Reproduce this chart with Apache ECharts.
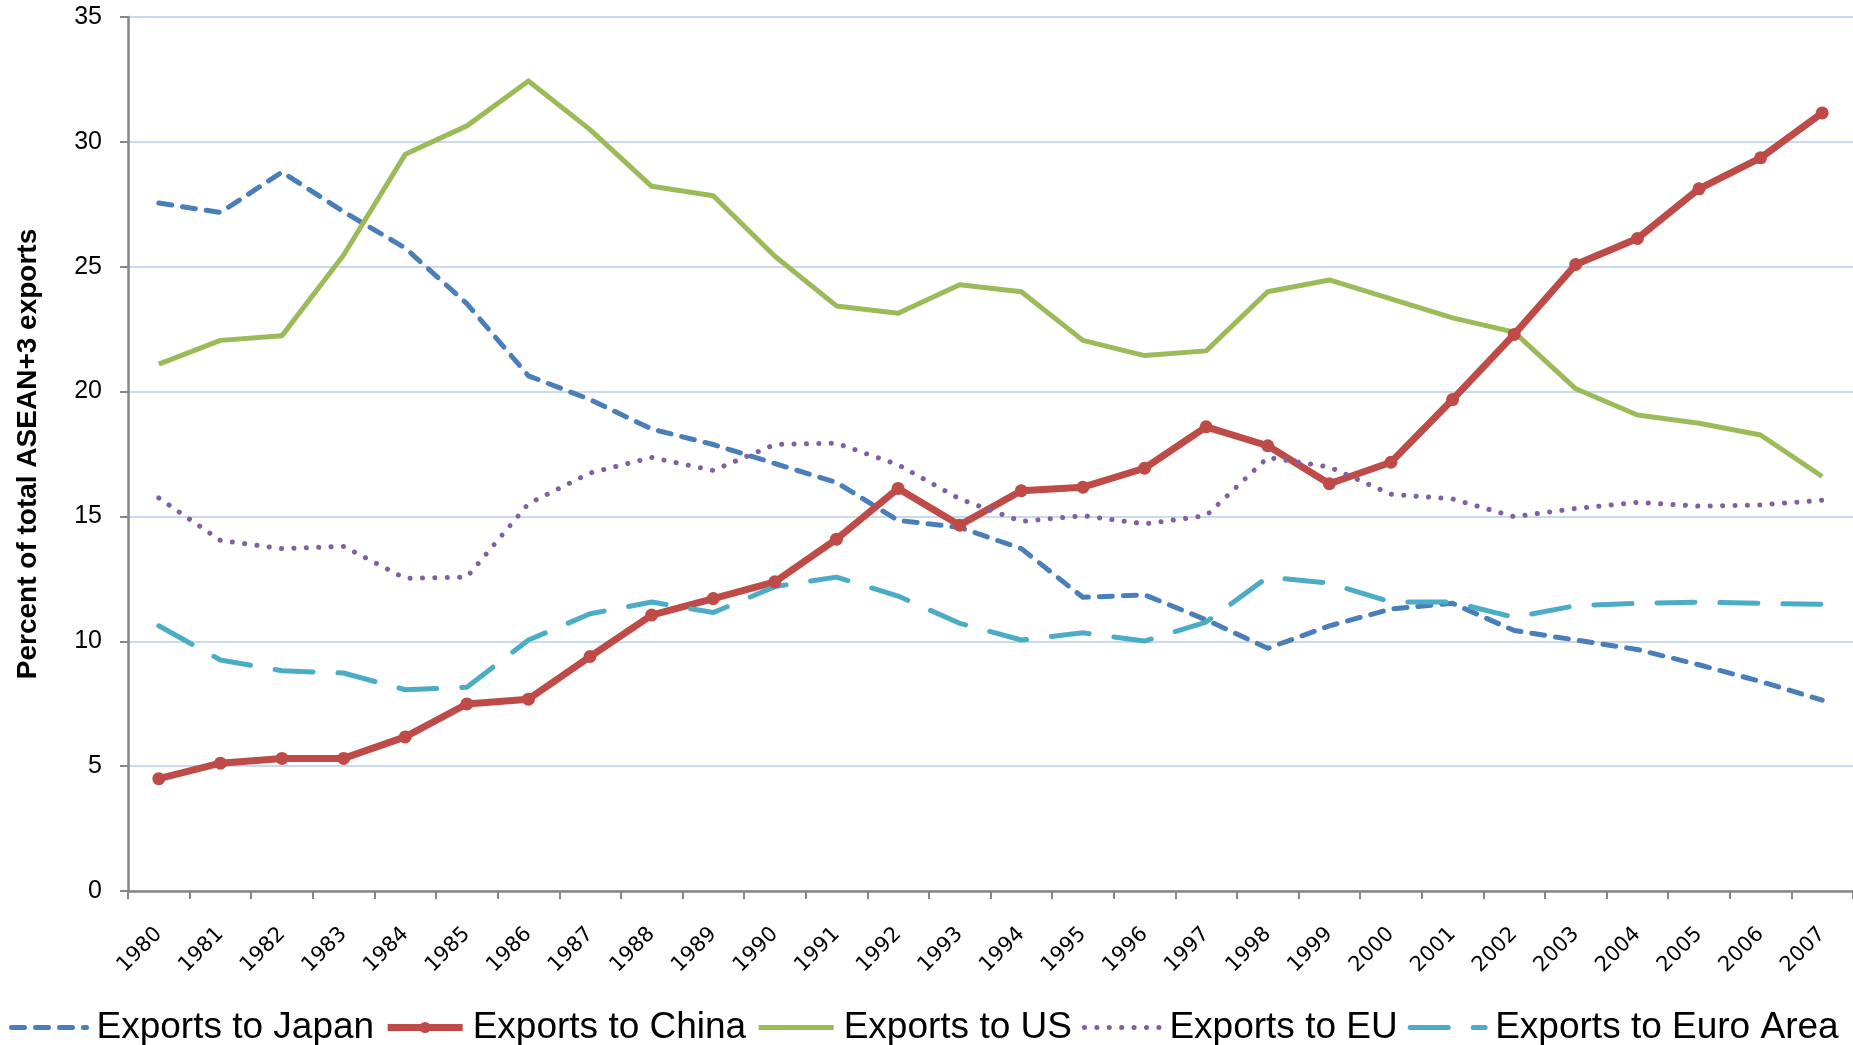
<!DOCTYPE html>
<html>
<head>
<meta charset="utf-8">
<title>ASEAN+3 exports by destination</title>
<script src="https://cdn.jsdelivr.net/npm/echarts@6.0.0/dist/echarts.min.js"></script>
<style>
    html, body { margin: 0; padding: 0; background: #fff; }
    #chart { width: 1853px; height: 1045px; }
</style>
</head>
<body>
<div id="chart"></div>
<script>
// --- data (percent of total ASEAN+3 exports) ---
const years = ['1980','1981','1982','1983','1984','1985','1986','1987','1988','1989',
               '1990','1991','1992','1993','1994','1995','1996','1997','1998','1999',
               '2000','2001','2002','2003','2004','2005','2006','2007'];

const toJapan = [27.55, 27.17, 28.79, 27.2, 25.75, 23.52, 20.63, 19.68, 18.5, 17.88,
                 17.12, 16.36, 14.84, 14.56, 13.71, 11.76, 11.86, 10.86, 9.72, 10.62,
                 11.29, 11.52, 10.43, 10.05, 9.67, 9.06, 8.39, 7.64];

const toChina = [4.5, 5.12, 5.31, 5.31, 6.17, 7.49, 7.68, 9.39, 11.05, 11.71,
                 12.38, 14.09, 16.12, 14.65, 16.03, 16.17, 16.93, 18.59, 17.83, 16.31,
                 17.17, 19.68, 22.29, 25.09, 26.13, 28.12, 29.36, 31.16];

const toUS = [21.1, 22.05, 22.24, 25.47, 29.5, 30.64, 32.44, 30.49, 28.22, 27.84,
              25.42, 23.43, 23.14, 24.28, 24.0, 22.05, 21.44, 21.63, 24.0, 24.47,
              23.71, 22.95, 22.38, 20.11, 19.06, 18.73, 18.26, 16.6];

const toEU = [15.74, 14.04, 13.71, 13.8, 12.52, 12.57, 15.51, 16.74, 17.36, 16.84,
              17.88, 17.93, 17.07, 15.7, 14.8, 15.03, 14.7, 15.03, 17.36, 16.98,
              15.89, 15.7, 14.99, 15.32, 15.56, 15.41, 15.46, 15.65];

const toEuroArea = [10.62, 9.25, 8.82, 8.73, 8.06, 8.16, 10.05, 11.1, 11.57, 11.15,
                    12.19, 12.57, 11.81, 10.72, 10.05, 10.34, 10.01, 10.77, 12.57, 12.33,
                    11.57, 11.57, 10.96, 11.43, 11.52, 11.57, 11.52, 11.48];

const seriesNames = ['Exports to Japan', 'Exports to China', 'Exports to US', 'Exports to EU', 'Exports to Euro Area'];

(function() {
    function init() {
        const chartDom = document.getElementById('chart');
        const myChart = echarts.init(chartDom);

        const axisGrey = '#868686';
        const gridBlue = '#B9CDE5';

        // line looks shared by series and legend icons
        const styles = [
            { color: '#4A7EBB', width: 5, type: [13, 11], cap: 'round', join: 'round' },
            { color: '#BE4B48', width: 7, type: 'solid', join: 'round' },
            { color: '#9BBB59', width: 5, type: 'solid', join: 'round' },
            { color: '#7F60A0', width: 5, type: [0.1, 12.3], cap: 'round' },
            { color: '#4BACC6', width: 5, type: [38, 25], cap: 'round', join: 'round' }
        ];
        const withMarker = [false, true, false, false, false];

        const legendData = seriesNames.map((n, i) => ({
            name: n,
            itemStyle: { color: styles[i].color, opacity: withMarker[i] ? 1 : 0 },
            lineStyle: Object.assign({}, styles[i])
        }));

        const seriesData = [toJapan, toChina, toUS, toEU, toEuroArea];
        const series = seriesNames.map((n, i) => ({
            name: n,
            type: 'line',
            data: seriesData[i],
            symbol: withMarker[i] ? 'circle' : 'none',
            showSymbol: withMarker[i],
            symbolSize: 13,
            itemStyle: { color: styles[i].color },
            lineStyle: Object.assign({}, styles[i])
        }));

        const option = {
            backgroundColor: '#fff',
            animation: false,
            grid: { left: 128, right: 0, top: 17, bottom: 154, containLabel: false, outerBoundsMode: 'none' },
            legend: {
                data: legendData,
                left: 4,
                top: 1004,
                width: 2400,
                itemWidth: 75,
                itemHeight: 14,
                itemGap: 10,
                textStyle: { color: '#000', fontFamily: 'Liberation Sans', fontSize: 37, padding: [0, 0, 0, 5] }
            },
            xAxis: {
                type: 'category',
                data: years,
                boundaryGap: true,
                axisLine: { lineStyle: { color: axisGrey, width: 2.5 } },
                axisTick: { show: true, length: 8, lineStyle: { color: axisGrey, width: 2 } },
                axisLabel: {
                    rotate: 45, margin: 40, interval: 0,
                    color: '#000', fontFamily: 'DejaVu Sans', fontSize: 21
                },
                splitLine: { show: false }
            },
            yAxis: {
                type: 'value',
                min: 0, max: 35, interval: 5,
                name: 'Percent of total ASEAN+3 exports',
                nameLocation: 'middle',
                nameRotate: 90,
                nameGap: 86,
                nameTextStyle: { color: '#000', fontFamily: 'Liberation Sans', fontWeight: 'bold', fontSize: 28 },
                axisLine: { show: true, lineStyle: { color: axisGrey, width: 2.5 } },
                axisTick: { show: true, length: 8, lineStyle: { color: axisGrey, width: 2 } },
                axisLabel: { margin: 26, color: '#000', fontFamily: 'Liberation Sans', fontSize: 25 },
                splitLine: { lineStyle: { color: gridBlue, width: 1.5 } }
            },
            series: series
        };

        myChart.setOption(option);
        window.onresize = () => myChart.resize();
    }

    if (document.readyState === 'loading') {
        document.addEventListener('DOMContentLoaded', init);
    } else {
        init();
    }
})();
</script>
</body>
</html>
